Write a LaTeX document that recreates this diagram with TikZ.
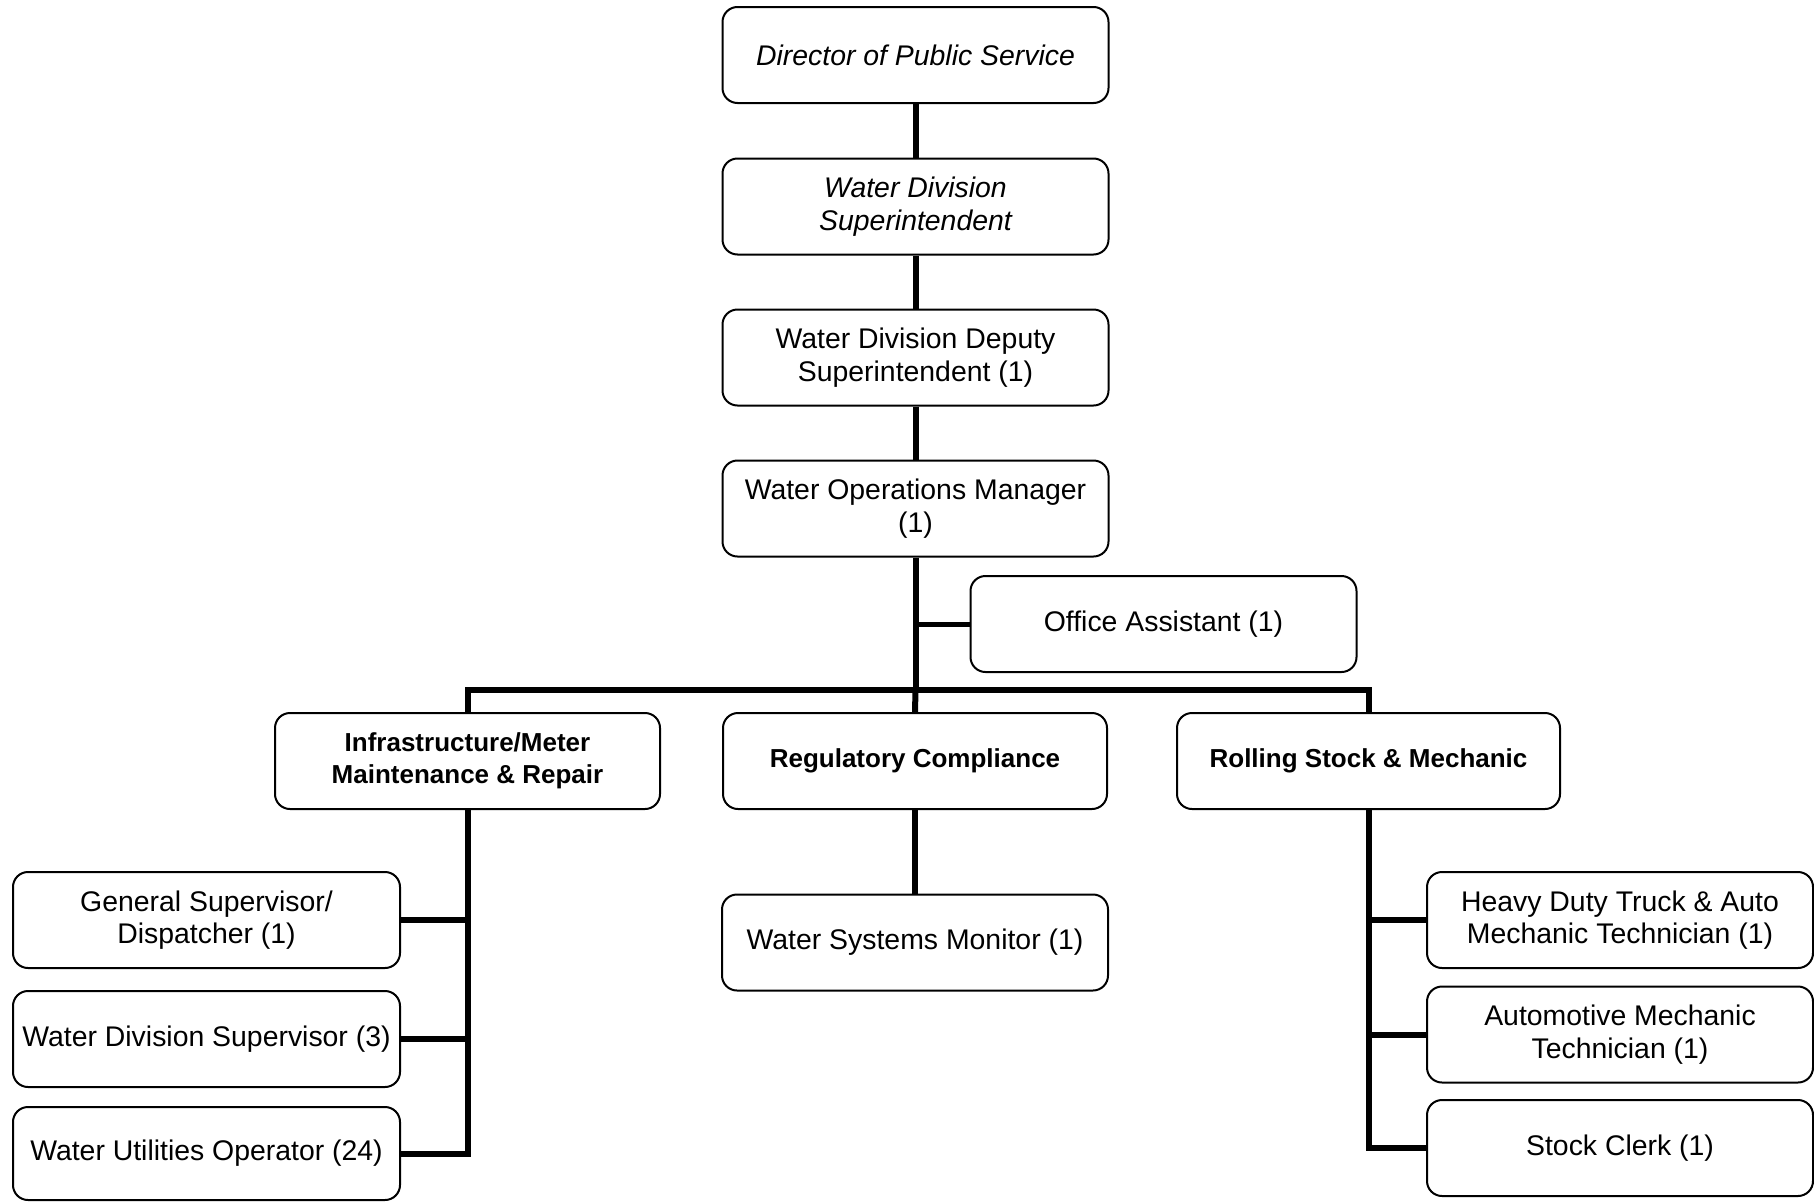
\documentclass[tikz,border=0pt]{standalone}
\usepackage{fontspec}
\setmainfont{Liberation Sans}
\begin{document}
\begin{tikzpicture}[x=1pt,y=-1pt,
  box/.style={draw=black, line width=2pt, rounded corners=15pt, minimum width=386pt, minimum height=96pt, inner sep=0pt, align=center, font=\fontsize{28.4}{32.5}\selectfont},
  hbox/.style={box, font=\fontsize{26}{32}\selectfont\bfseries},
  ibox/.style={box, font=\fontsize{28.4}{32.5}\selectfont\itshape},
  link/.style={line width=6pt, line join=miter},
  thinlink/.style={line width=5pt}]
\useasboundingbox (0,0) rectangle (1814,1202);
\fill[white] (0,0) rectangle (1814,1202);

% main column
\node[ibox] (dir) at (915.5,55) {Director of Public Service};
\node[ibox] (sup) at (915.5,206.5) {Water Division\\Superintendent};
\node[box] (dep) at (915.5,357.5) {Water Division Deputy\\Superintendent (1)};
\node[box] (ops) at (915.5,508.5) {Water Operations Manager\\(1)};
\node[box] (off) at (1163.5,624) {Office Assistant (1)};

% divisions
\node[hbox, minimum width=385pt] (inf) at (467.5,761) {Infrastructure/Meter\\Maintenance \& Repair};
\node[hbox, minimum width=384pt] (reg) at (915,761) {Regulatory Compliance};
\node[hbox, minimum width=383pt] (rol) at (1368.5,761) {Rolling Stock \& Mechanic};

% infrastructure staff
\node[box, minimum width=387pt] (gs) at (206.5,920) {General Supervisor/\\Dispatcher (1)};
\node[box, minimum width=387pt] (wds) at (206.5,1039) {Water Division Supervisor (3)};
\node[box, minimum width=387pt, minimum height=93pt] (wuo) at (206.5,1153.5) {Water Utilities Operator (24)};

% regulatory staff
\node[box] (wsm) at (915,942.5) {Water Systems Monitor (1)};

% rolling stock staff
\node[box] (hd) at (1620,920) {Heavy Duty Truck \& Auto\\Mechanic Technician (1)};
\node[box] (am) at (1620,1034.5) {Automotive Mechanic\\Technician (1)};
\node[box] (sc) at (1620,1148) {Stock Clerk (1)};

% connectors: main column
\draw[link] (dir.south) -- (sup.north);
\draw[link] (sup.south) -- (dep.north);
\draw[link] (dep.south) -- (ops.north);
\coordinate (bus) at (915.5,690);
\draw[link] (ops.south) -- (bus);
\draw[thinlink] (ops.south |- off.west) -- (off.west);

% bus to divisions
\draw[link] (inf.north) -- (inf.north |- bus) -- (rol.north |- bus) -- (rol.north);
\draw[link] (bus) -- (reg.north);

% infrastructure branch
\draw[link] (inf.south) |- (wuo.east);
\draw[link] (inf.south |- gs.east) -- (gs.east);
\draw[link] (inf.south |- wds.east) -- (wds.east);

% regulatory branch
\draw[link] (reg.south) -- (wsm.north);

% rolling stock branch
\draw[link] (rol.south) |- (sc.west);
\draw[link] (rol.south |- hd.west) -- (hd.west);
\draw[link] (rol.south |- am.west) -- (am.west);
\end{tikzpicture}
\end{document}
